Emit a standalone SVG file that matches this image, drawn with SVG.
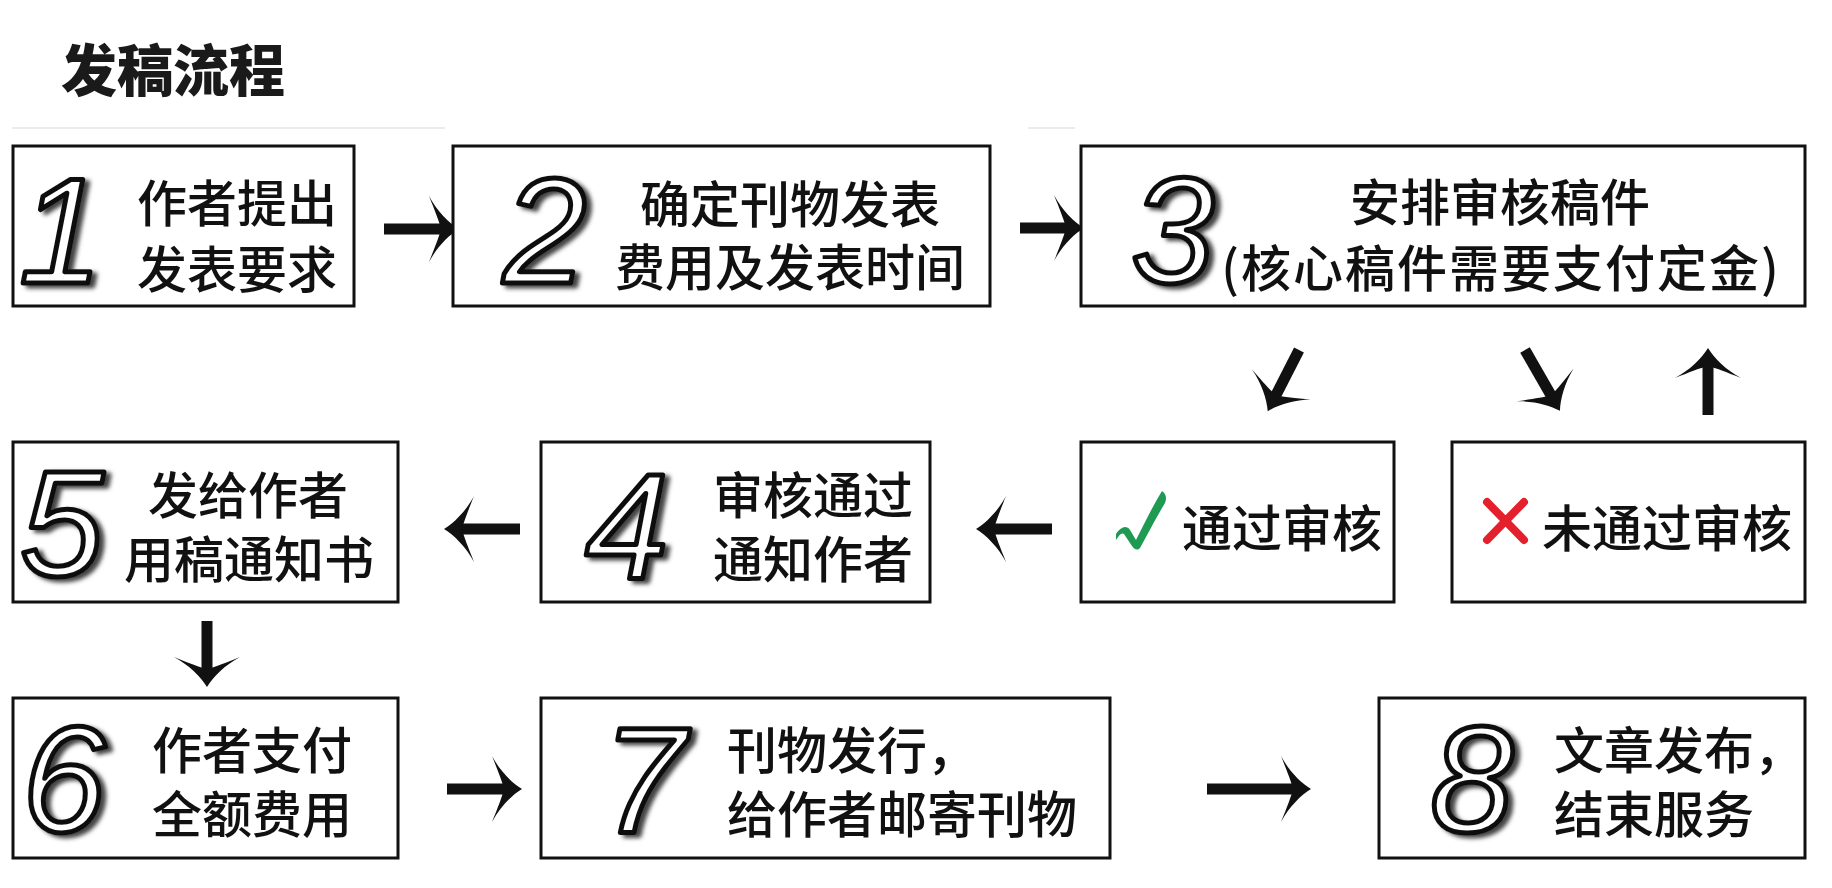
<svg xmlns="http://www.w3.org/2000/svg" width="1832" height="888" viewBox="0 0 1832 888">
<style>
.box{fill:#fff;stroke:#111;stroke-width:3}
.t{font-family:"Noto Sans CJK SC","Noto Sans",sans-serif;font-size:50px;font-weight:500;fill:#111;dominant-baseline:central}
.title{font-family:"Noto Sans CJK SC",sans-serif;font-size:56px;font-weight:900;fill:#1a1a1a;dominant-baseline:central}
.num{font-family:"Liberation Sans",Arial,sans-serif;font-size:150px;font-style:italic;text-anchor:middle;fill:#fff;stroke:#111;stroke-width:5;stroke-linejoin:round;filter:url(#ds)}
.c{text-anchor:middle}
.arr{stroke:#111;stroke-width:11;fill:none;marker-end:url(#ah)}
.faint{stroke:#ebebeb;stroke-width:2}
</style>
<defs>
<filter id="ds" x="-20%" y="-20%" width="150%" height="150%">
<feGaussianBlur in="SourceAlpha" stdDeviation="2.2"/>
<feOffset dx="5" dy="3" result="o"/>
<feFlood flood-color="#444"/>
<feComposite in2="o" operator="in" result="s"/>
<feMerge><feMergeNode in="s"/><feMergeNode in="SourceGraphic"/></feMerge>
</filter>
<marker id="ah" markerUnits="userSpaceOnUse" viewBox="0 -36 34 72" markerWidth="34" markerHeight="72" refX="16" refY="0" orient="auto">
<path d="M32,0 C22,-6 10,-18 2,-33 C8,-18 12,-8 14,0 C12,8 8,18 2,33 C10,18 22,6 32,0 Z" fill="#111"/>
</marker>
</defs>
<rect width="1832" height="888" fill="#fff"/>
<line class="faint" x1="12" y1="128" x2="445" y2="128"/>
<line class="faint" x1="1028" y1="128" x2="1075" y2="128"/>
<text class="title" x="61" y="66">发稿流程</text>

<g id="connectors">
<line class="arr" x1="384" y1="229" x2="443" y2="229"/>
<line class="arr" x1="1020" y1="228" x2="1068" y2="228"/>
<line class="arr" x1="1299" y1="350" x2="1275" y2="397"/>
<line class="arr" x1="1525" y1="350" x2="1552" y2="397"/>
<line class="arr" x1="1708" y1="415" x2="1708" y2="364"/>
<line class="arr" x1="1052" y1="529" x2="992" y2="529"/>
<line class="arr" x1="520" y1="529" x2="460" y2="529"/>
<line class="arr" x1="207" y1="621" x2="207" y2="671"/>
<line class="arr" x1="447" y1="789" x2="506" y2="789"/>
<line class="arr" x1="1207" y1="789" x2="1295" y2="789"/>
</g>

<g id="n1">
<rect class="box" x="13" y="146" width="341" height="160"/>
<text class="num" x="61" y="283">1</text>
<text class="t"><tspan x="137" y="200">作者提出</tspan><tspan x="137" y="266">发表要求</tspan></text>
</g>
<g id="n2">
<rect class="box" x="453" y="146" width="537" height="160"/>
<text class="num" x="545" y="283">2</text>
<text class="t c"><tspan x="790" y="201">确定刊物发表</tspan><tspan x="790" y="264">费用及发表时间</tspan></text>
</g>
<g id="n3">
<rect class="box" x="1081" y="146" width="724" height="160"/>
<text class="num" x="1173" y="283">3</text>
<text class="t c"><tspan x="1500" y="199">安排审核稿件</tspan><tspan x="1501" y="265" letter-spacing="2">(核心稿件需要支付定金)</tspan></text>
</g>
<g id="n-pass">
<rect class="box" x="1081" y="442" width="313" height="160"/>
<path d="M1116,534 C1120,528 1126,524 1130,530 L1136,540 C1146,520 1154,504 1162,491 C1166,494 1167,498 1165,503 C1157,516 1150,530 1140,548 C1137,551 1134,549 1132,546 L1124,534 C1121,532 1119,536 1116,540 Z" fill="#1e9a52"/>
<text class="t" x="1182" y="525">通过审核</text>
</g>
<g id="n-fail">
<rect class="box" x="1452" y="442" width="353" height="160"/>
<path d="M1487,502 L1524,540 M1524,502 L1487,540" stroke="#e3202b" stroke-width="8" stroke-linecap="round"/>
<text class="t" x="1542" y="525">未通过审核</text>
</g>
<g id="n4">
<rect class="box" x="541" y="442" width="389" height="160"/>
<text class="num" x="627" y="578">4</text>
<text class="t"><tspan x="713" y="492">审核通过</tspan><tspan x="713" y="556">通知作者</tspan></text>
</g>
<g id="n5">
<rect class="box" x="13" y="442" width="385" height="160"/>
<text class="num" x="62" y="576">5</text>
<text class="t c"><tspan x="248" y="492">发给作者</tspan><tspan x="249" y="556">用稿通知书</tspan></text>
</g>
<g id="n6">
<rect class="box" x="13" y="698" width="385" height="160"/>
<text class="num" x="64" y="832">6</text>
<text class="t"><tspan x="152" y="747">作者支付</tspan><tspan x="152" y="811">全额费用</tspan></text>
</g>
<g id="n7">
<rect class="box" x="541" y="698" width="569" height="160"/>
<text class="num" x="644" y="832">7</text>
<text class="t"><tspan x="727" y="747">刊物发行，</tspan><tspan x="727" y="811">给作者邮寄刊物</tspan></text>
</g>
<g id="n8">
<rect class="box" x="1379" y="698" width="426" height="160"/>
<text class="num" x="1472" y="832">8</text>
<text class="t"><tspan x="1554" y="747">文章发布，</tspan><tspan x="1554" y="811">结束服务</tspan></text>
</g>
</svg>
